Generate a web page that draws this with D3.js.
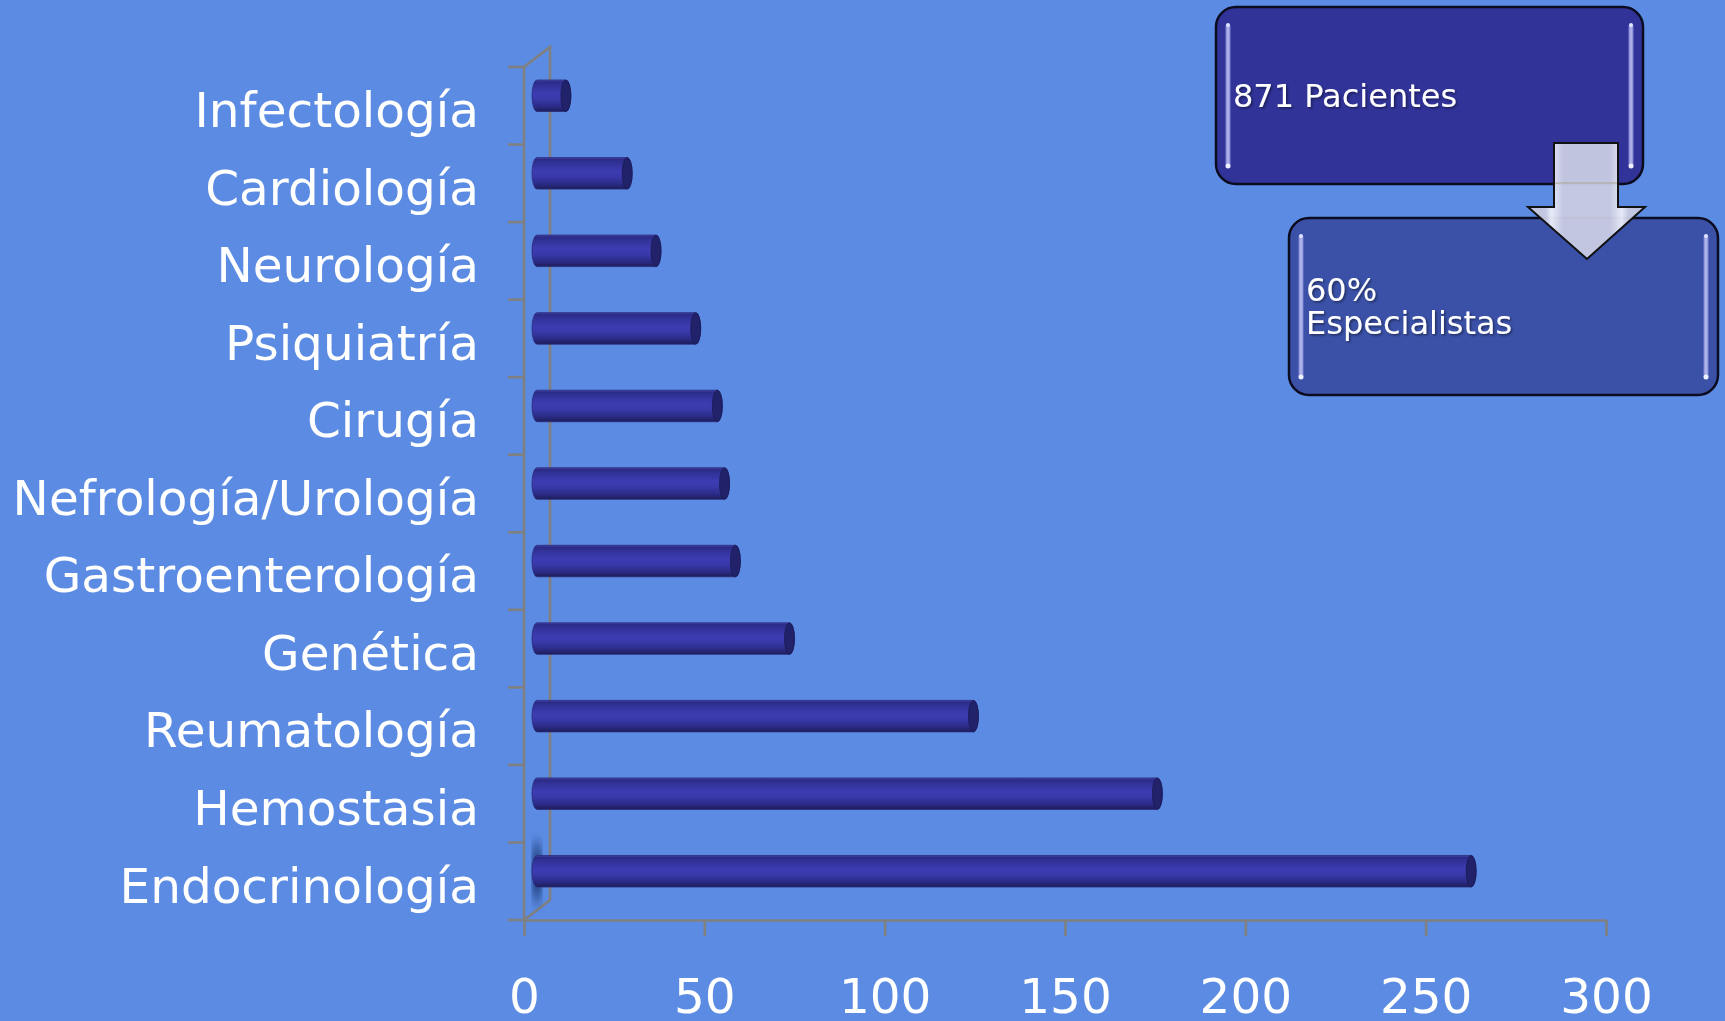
<!DOCTYPE html>
<html>
<head>
<meta charset="utf-8">
<script src="https://cdn.jsdelivr.net/npm/d3@7"></script>
<style>
  body { margin: 0; background: #5b8be2; }
  svg { display: block; font-family: "DejaVu Sans", Verdana, sans-serif; }
  .axis path, .axis line { stroke: #808080; stroke-width: 2.6; }
  .axis text { fill: #fff; font-size: 48.5px; font-family: "DejaVu Sans", Verdana, sans-serif; }
</style>
</head>
<body>
<script>
// data (top to bottom)
let categories = ["Infectología", "Cardiología", "Neurología", "Psiquiatría", "Cirugía",
  "Nefrología/Urología", "Gastroenterología", "Genética", "Reumatología", "Hemostasia", "Endocrinología"];
let values = [8, 25, 33, 44, 50, 52, 55, 70, 121, 172, 259];
let xTicks = [0, 50, 100, 150, 200, 250, 300];
let boxTop = ["871 Pacientes"];
let boxBottom = ["60%", "Especialistas"];

let w = 1725;
let h = 1021;
let svg;
let xScale, yScale;

// fake 3d depth of the chart walls
let depthX = 26;
let depthY = -20;
let barR = 15.75;   // half height of the cylinders
let capRx = 5;      // ellipse width of the cylinder ends

function initDefs() {
  let defs = svg.append('defs');

  let bg = defs.append('linearGradient').attr('id', 'barGrad')
    .attr('x1', 0).attr('y1', 0).attr('x2', 0).attr('y2', 1);
  [[0, '#4848b4'], [0.06, '#2b2b86'], [0.2, '#33339c'], [0.45, '#3d3db3'],
   [0.62, '#3838a8'], [0.85, '#2a2a84'], [1, '#1d1d58']]
    .forEach(s => bg.append('stop').attr('offset', s[0]).attr('stop-color', s[1]));

  let sh = defs.append('linearGradient').attr('id', 'shadowGrad')
    .attr('x1', 0).attr('y1', 0).attr('x2', 0).attr('y2', 1);
  [[0, 0], [0.3, 0.75], [0.7, 0.75], [1, 0]]
    .forEach(s => sh.append('stop').attr('offset', s[0])
      .attr('stop-color', '#1c3a78').attr('stop-opacity', s[1]));

  defs.append('filter').attr('id', 'blur')
    .append('feGaussianBlur').attr('stdDeviation', 2);

  let ts = defs.append('filter').attr('id', 'txtShadow')
    .attr('x', -0.1).attr('y', -0.3).attr('width', 1.2).attr('height', 1.6);
  ts.append('feDropShadow').attr('dx', 1.5).attr('dy', 1.5)
    .attr('stdDeviation', 1.2).attr('flood-color', '#000').attr('flood-opacity', 0.45);

  let ag = defs.append('linearGradient').attr('id', 'arrowGrad')
    .attr('x1', 0).attr('y1', 0).attr('x2', 1).attr('y2', 0);
  [[0, '#c4c7df'], [0.15, '#c9cce3'], [0.2, '#eef0fa'], [0.3, '#c9cce3'], [0.7, '#c9cce3'],
   [0.8, '#eceef9'], [0.86, '#c9cce3'], [1, '#c0c3dc']]
    .forEach(s => ag.append('stop').attr('offset', s[0]).attr('stop-color', s[1]));

  let gl = defs.append('linearGradient').attr('id', 'glossGrad')
    .attr('x1', 0).attr('y1', 0).attr('x2', 1).attr('y2', 0);
  [[0, '#8d92e0'], [0.5, '#d8dbff'], [1, '#8d92e0']]
    .forEach(s => gl.append('stop').attr('offset', s[0]).attr('stop-color', s[1]));
}

function drawChart() {
  xScale = d3.scaleLinear().domain([0, 300]).range([524, 1606]);
  yScale = d3.scaleBand().domain(categories).range([67, 920]);

  let x0 = xScale(0);
  let yTop = yScale.range()[0];
  let yBot = yScale.range()[1];

  // walls of the 3d frame
  let frame = svg.append('g').attr('class', 'axis');
  frame.append('path')
    .attr('d', `M${x0},${yBot} L${x0},${yTop} L${x0 + depthX},${yTop + depthY} L${x0 + depthX},${yBot + depthY} L${x0},${yBot}`)
    .attr('fill', 'none');

  // category ticks sit on the band boundaries
  frame.selectAll('.ctick')
    .data(categories.map(c => yScale(c)).concat([yBot]))
    .enter()
    .append('line')
    .attr('x1', x0 - 16).attr('x2', x0)
    .attr('y1', d => d).attr('y2', d => d);

  // shadow beside the bottom bar
  let last = categories[categories.length - 1];
  svg.append('rect')
    .attr('x', x0 + 8).attr('width', 10)
    .attr('y', yScale(last) - 8).attr('height', yScale.bandwidth() - 2)
    .attr('fill', 'url(#shadowGrad)')
    .attr('filter', 'url(#blur)');

  // cylinders, at mid depth
  let bars = svg.selectAll('.bars')
    .data(categories.map((c, i) => ({ cat: c, v: values[i] })))
    .enter()
    .append('g')
    .classed('bars', true)
    .attr('transform', d => `translate(0, ${yScale(d.cat) + yScale.bandwidth() / 2 + depthY / 2})`);

  bars.append('path')
    .attr('d', d => {
      let a = x0 + depthX / 2, b = xScale(d.v) + depthX / 2;
      return `M${a},${-barR} L${b},${-barR} A${capRx},${barR} 0 0 1 ${b},${barR} ` +
             `L${a},${barR} A${capRx},${barR} 0 0 1 ${a},${-barR} Z`;
    })
    .attr('fill', 'url(#barGrad)')
    .attr('stroke', '#2a2a7a').attr('stroke-width', 0.8);

  bars.append('ellipse')
    .attr('cx', d => xScale(d.v) + depthX / 2)
    .attr('cy', 0)
    .attr('rx', capRx).attr('ry', barR)
    .attr('fill', '#22226b')
    .attr('stroke', '#1b1b55').attr('stroke-width', 0.8);

  // x axis
  let xAxis = d3.axisBottom(xScale)
    .tickValues(xTicks)
    .tickSize(16)
    .tickSizeOuter(0)
    .tickPadding(43);
  svg.append('g')
    .attr('class', 'axis')
    .attr('transform', `translate(0, ${yBot})`)
    .call(xAxis);

  // category labels
  let yAxis = d3.axisLeft(yScale).tickSize(0).tickPadding(45);
  let yg = svg.append('g')
    .attr('class', 'axis')
    .attr('transform', `translate(${x0}, 0)`)
    .call(yAxis);
  yg.select('.domain').remove();
  yg.selectAll('text').attr('dy', '0.44em');
}

function drawBox(x, y, bw, bh, fill, lines) {
  let g = svg.append('g');
  g.append('rect')
    .attr('x', x).attr('y', y).attr('width', bw).attr('height', bh)
    .attr('rx', 20).attr('ry', 20)
    .attr('fill', fill)
    .attr('stroke', '#0c0c20').attr('stroke-width', 2.5);
  // glossy edge strokes
  [x + 12, x + bw - 12].forEach(lx => {
    g.append('rect')
      .attr('x', lx - 2.5).attr('width', 5)
      .attr('y', y + 17).attr('height', bh - 34)
      .attr('rx', 2.5)
      .attr('fill', 'url(#glossGrad)').attr('opacity', 0.8);
    g.append('circle').attr('cx', lx).attr('cy', y + bh - 18).attr('r', 2.5).attr('fill', '#eef0ff');
    g.append('circle').attr('cx', lx).attr('cy', y + 18).attr('r', 2).attr('fill', '#dfe2ff');
  });
  let startY = y + bh / 2 + 11 - (lines.length - 1) * 16.5;
  g.append('text')
    .attr('fill', '#fff')
    .attr('font-size', 32)
    .attr('filter', 'url(#txtShadow)')
    .selectAll('tspan')
    .data(lines)
    .enter()
    .append('tspan')
    .attr('x', x + 17)
    .attr('y', (d, i) => startY + i * 33)
    .text(d => d);
}

function drawArrow() {
  let pts = [[1554, 143], [1618, 143], [1618, 207], [1645, 207], [1587, 259],
             [1528, 207], [1554, 207]];
  svg.append('polygon')
    .attr('points', pts.map(p => p.join(',')).join(' '))
    .attr('fill', 'url(#arrowGrad)')
    .attr('fill-opacity', 0.95)
    .attr('stroke', '#111').attr('stroke-width', 2);
  // faint line where the upper box shows through
  svg.append('line')
    .attr('x1', 1555).attr('x2', 1617).attr('y1', 183).attr('y2', 183)
    .attr('stroke', '#a9a48c').attr('stroke-width', 1.5).attr('opacity', 0.6);
}

window.onload = function() {
  svg = d3.select('body').append('svg').attr('width', w).attr('height', h);
  svg.append('rect').attr('width', w).attr('height', h).attr('fill', '#5b8be2');
  initDefs();
  drawChart();
  drawBox(1216, 7, 427, 177, '#313399', boxTop);
  drawBox(1289, 218, 429, 177, '#3b51a8', boxBottom);
  drawArrow();
}
</script>
</body>
</html>
